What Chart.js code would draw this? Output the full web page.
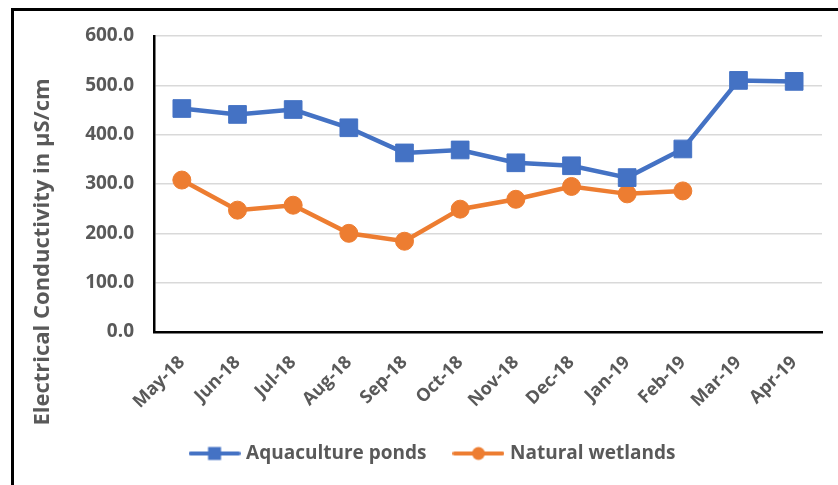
<!DOCTYPE html>
<html>
<head>
<meta charset="utf-8">
<script src="https://cdn.jsdelivr.net/npm/chart.js@4.4.1/dist/chart.umd.min.js"></script>
<style>
  html, body { margin: 0; padding: 0; background: #fff; overflow: hidden; }
  #wrap { position: relative; width: 838px; height: 485px; }
  #frame { position: absolute; left: 11px; top: 8px; width: 900px; height: 600px;
           border: 3px solid #000; pointer-events: none; }
</style>
</head>
<body>
<div id="wrap">
  <canvas id="line-chart" width="838" height="485"></canvas>
  <div id="frame"></div>
</div>
<script>
const months = ["May-18", "Jun-18", "Jul-18", "Aug-18", "Sep-18", "Oct-18", "Nov-18", "Dec-18", "Jan-19", "Feb-19", "Mar-19", "Apr-19"];
const aquaculturePonds = [453, 441, 451, 414, 363, 369, 343, 337, 313, 371, 510, 508];
const naturalWetlands = [308, 247, 257, 200, 184, 249, 269, 295, 280, 286, null, null];
const yTitle = 'Electrical Conductivity in µS/cm';

const grey = '#595959';
const blue = '#4472C4';
const orange = '#ED7D31';
const fontFam = "'Open Sans', sans-serif";

// little line+marker pictures for the legend
function legendIcon(color, shape) {
  const c = document.createElement('canvas');
  c.width = 52; c.height = 16;
  const g = c.getContext('2d');
  g.strokeStyle = color; g.lineWidth = 4; g.lineCap = 'round';
  g.beginPath(); g.moveTo(2, 8); g.lineTo(50, 8); g.stroke();
  g.fillStyle = color;
  if (shape === 'rect') {
    g.fillRect(19.5, 1.5, 13, 13);
  } else {
    g.beginPath(); g.arc(26, 8, 6.5, 0, Math.PI * 2); g.fill();
  }
  return c;
}
const icons = [legendIcon(blue, 'rect'), legendIcon(orange, 'circle')];

// y title is centred on the whole chart height, not the plot area
const sideTitle = {
  id: 'sideTitle',
  afterDraw(chart) {
    const c = chart.ctx;
    c.save();
    c.translate(43, 252);
    c.rotate(-Math.PI / 2);
    c.font = "bold 22px " + fontFam;
    c.fillStyle = grey;
    c.textAlign = 'center';
    c.textBaseline = 'middle';
    c.fillText(yTitle, 0, 0);
    c.restore();
  }
};

// legend sits a bit right of the centre in the original
const nudgeLegend = {
  id: 'nudgeLegend',
  afterLayout(chart) {
    chart.legend.left += 9;
    chart.legend.right += 9;
  }
};

const ctx = document.getElementById('line-chart');
new Chart(ctx, {
  type: 'line',
  data: {
    labels: months,
    datasets: [{
      label: 'Aquaculture ponds',
      data: aquaculturePonds,
      borderColor: blue,
      backgroundColor: blue,
      borderWidth: 4.5,
      pointStyle: 'rect',
      pointRadius: 12.5,
      pointBorderWidth: 1,
      pointBackgroundColor: blue,
      pointBorderColor: blue,
      tension: 0
    }, {
      label: 'Natural wetlands',
      data: naturalWetlands,
      borderColor: orange,
      backgroundColor: orange,
      borderWidth: 4.5,
      pointStyle: 'circle',
      pointRadius: 9,
      pointBorderWidth: 1,
      pointBackgroundColor: orange,
      pointBorderColor: orange,
      tension: 0
    }]
  },
  plugins: [sideTitle, nudgeLegend],
  options: {
    responsive: false,
    animation: false,
    layout: { padding: { left: 28, top: 36, right: 16, bottom: 12 } },
    plugins: {
      tooltip: { enabled: false },
      legend: {
        position: 'bottom',
        labels: {
          usePointStyle: true,
          pointStyleWidth: 44,
          padding: 30,
          color: grey,
          font: { family: fontFam, size: 19, weight: 'bold' },
          generateLabels(chart) {
            return chart.data.datasets.map((ds, i) => ({
              text: ds.label,
              fontColor: grey,
              pointStyle: icons[i],
              datasetIndex: i,
              hidden: false,
              lineWidth: 0
            }));
          }
        }
      }
    },
    scales: {
      x: {
        offset: true,
        grid: { display: false, drawTicks: false, offset: true },
        border: { color: '#000', width: 2.5 },
        ticks: {
          color: grey,
          font: { family: fontFam, size: 18, weight: 'bold' },
          minRotation: 45,
          maxRotation: 45,
          padding: 20
        },
        afterFit(scale) { scale.height = 82; }
      },
      y: {
        min: 0,
        max: 600,
        ticks: {
          stepSize: 100,
          color: grey,
          padding: 20,
          font: { family: fontFam, size: 19, weight: 'bold' },
          callback: v => v.toFixed(1)
        },
        grid: { color: '#D9D9D9', lineWidth: 1.5, drawTicks: false },
        border: { color: '#000', width: 2.5 },
        afterFit(scale) { scale.width = 126; }
      }
    }
  }
});
</script>
</body>
</html>
